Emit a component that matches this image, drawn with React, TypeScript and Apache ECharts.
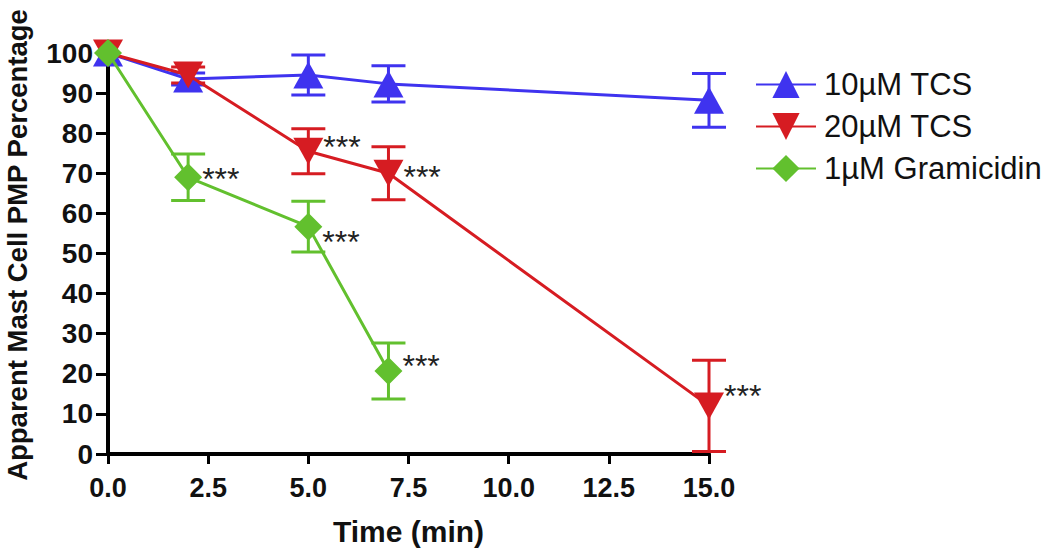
import React, { useEffect, useRef } from "react";
import * as echarts from "echarts";

// ---- data ----
const seriesNames = ["10µM TCS", "20µM TCS", "1µM Gramicidin"];
const tcsTimes = [0, 2, 5, 7, 15];
const gramTimes = [0, 2, 5, 7];
const tcs10Mean = [100, 93.5, 94.5, 92.3, 88.2];
const tcs10Sd = [0, 1.5, 5, 4.5, 6.7];
const tcs20Mean = [100, 94.5, 75.5, 70, 12];
const tcs20Sd = [0, 2, 5.6, 6.6, 11.4];
const gramMean = [100, 69, 56.7, 20.7];
const gramSd = [0, 5.8, 6.3, 7];
const tcs10Sig = [false, false, false, false, false];
const tcs20Sig = [false, false, true, true, true];
const gramSig = [false, true, true, true];
const sigText = "***";

const xMin = 0;
const xMax = 15;
const xStep = 2.5;
const yMin = 0;
const yMax = 100;
const yStep = 10;

// label placement (style only): vertical pixel offsets of the "***" marks
const tcs20SigOffset = [0, 0, -4, 4, -10];
const gramSigOffset = [0, 2, 15, -5];
const tcs10SigOffset = [0, 0, 0, 0, 0];

const FONT = '"Liberation Sans", Arial, Helvetica, sans-serif';
const BLUE = "#3f33ef";
const RED = "#d61c22";
const GREEN = "#62c02e";

function lineSeries(
  name: string,
  xs: number[],
  ys: number[],
  sig: boolean[],
  sigOffset: number[],
  color: string,
  symbol: string,
  symbolSize: number[],
  z: number
) {
  return {
    type: "line",
    name,
    z,
    symbol,
    symbolSize,
    showAllSymbol: true,
    lineStyle: { color, width: 3 },
    itemStyle: { color, opacity: 1 },
    data: xs.map((x, i) => {
      const item: any = { value: [x, ys[i]] };
      if (sig[i]) {
        item.label = {
          show: true,
          position: "right",
          distance: 0,
          offset: [0, sigOffset[i]],
          formatter: sigText,
          color: "#222",
          fontFamily: FONT,
          fontSize: 32,
        };
      }
      return item;
    }),
  };
}

function errorSeries(name: string, xs: number[], means: number[], sds: number[], color: string, z: number) {
  return {
    type: "custom",
    name,
    z,
    silent: true,
    data: xs.map((x, i) => [x, means[i] - sds[i], means[i] + sds[i]]),
    encode: { x: 0, y: [1, 2] },
    renderItem: (_params: any, api: any) => {
      const x = api.value(0);
      if (api.value(1) === api.value(2)) return { type: "group", children: [] };
      const lo = api.coord([x, api.value(1)]);
      const hi = api.coord([x, api.value(2)]);
      const hw = 17;
      const style = { stroke: color, lineWidth: 3 };
      return {
        type: "group",
        children: [
          { type: "line", shape: { x1: lo[0], y1: lo[1], x2: hi[0], y2: hi[1] }, style },
          { type: "line", shape: { x1: lo[0] - hw, y1: lo[1], x2: lo[0] + hw, y2: lo[1] }, style },
          { type: "line", shape: { x1: hi[0] - hw, y1: hi[1], x2: hi[0] + hw, y2: hi[1] }, style },
        ],
      };
    },
  };
}

export default function App() {
  const ref = useRef<HTMLDivElement>(null);

  useEffect(() => {
    if (!ref.current) return;
    const chart = echarts.init(ref.current, undefined, { renderer: "svg" });
    const option: any = {
      animation: false,
      backgroundColor: "#ffffff",
      grid: { left: 108, right: 341, top: 53, bottom: 100, outerBoundsMode: "none" },
      legend: {
        data: seriesNames,
        orient: "vertical",
        left: 750,
        top: 64,
        itemWidth: 60,
        itemHeight: 34,
        itemGap: 11,
        textStyle: { fontFamily: FONT, fontSize: 31, color: "#111", padding: [0, 0, 0, 3] },
        selectedMode: false,
      },
      xAxis: {
        type: "value",
        min: xMin,
        max: xMax,
        interval: xStep,
        name: "Time (min)",
        nameLocation: "middle",
        nameGap: 62,
        nameTextStyle: { fontFamily: FONT, fontSize: 30, fontWeight: "bold", color: "#111" },
        splitLine: { show: false },
        axisLine: { show: true, onZero: false, lineStyle: { color: "#000", width: 4 } },
        axisTick: { show: true, length: 10, lineStyle: { color: "#000", width: 3 } },
        axisLabel: {
          margin: 20,
          fontFamily: FONT,
          fontSize: 27,
          fontWeight: "bold",
          color: "#111",
          formatter: (v: number) => v.toFixed(1),
        },
      },
      yAxis: {
        type: "value",
        min: yMin,
        max: yMax,
        interval: yStep,
        splitLine: { show: false },
        axisLine: { show: true, onZero: false, lineStyle: { color: "#000", width: 4 } },
        axisTick: { show: true, length: 12, lineStyle: { color: "#000", width: 3 } },
        axisLabel: {
          margin: 15,
          fontFamily: FONT,
          fontSize: 28,
          fontWeight: "bold",
          color: "#111",
        },
      },
      graphic: [
        {
          type: "text",
          x: 17,
          y: 245,
          rotation: Math.PI / 2,
          style: {
            text: "Apparent Mast Cell PMP Percentage",
            font: `bold 27.5px ${FONT}`,
            fill: "#111",
            align: "center",
            verticalAlign: "middle",
          },
        },
      ],
      series: [
        errorSeries("err10", tcsTimes, tcs10Mean, tcs10Sd, BLUE, 2),
        errorSeries("err20", tcsTimes, tcs20Mean, tcs20Sd, RED, 2),
        errorSeries("errG", gramTimes, gramMean, gramSd, GREEN, 2),
        lineSeries(seriesNames[0], tcsTimes, tcs10Mean, tcs10Sig, tcs10SigOffset, BLUE, "triangle", [30, 27], 3),
        lineSeries(seriesNames[1], tcsTimes, tcs20Mean, tcs20Sig, tcs20SigOffset, RED, "path://M0,0L10,0L5,10Z", [30, 27], 4),
        lineSeries(seriesNames[2], gramTimes, gramMean, gramSig, gramSigOffset, GREEN, "diamond", [28, 28], 5),
      ],
    };
    chart.setOption(option);
    return () => chart.dispose();
  }, []);

  return (
    <div
      ref={ref}
      style={{ position: "fixed", left: 0, top: 0, width: 1050, height: 554, background: "#fff" }}
    />
  );
}
